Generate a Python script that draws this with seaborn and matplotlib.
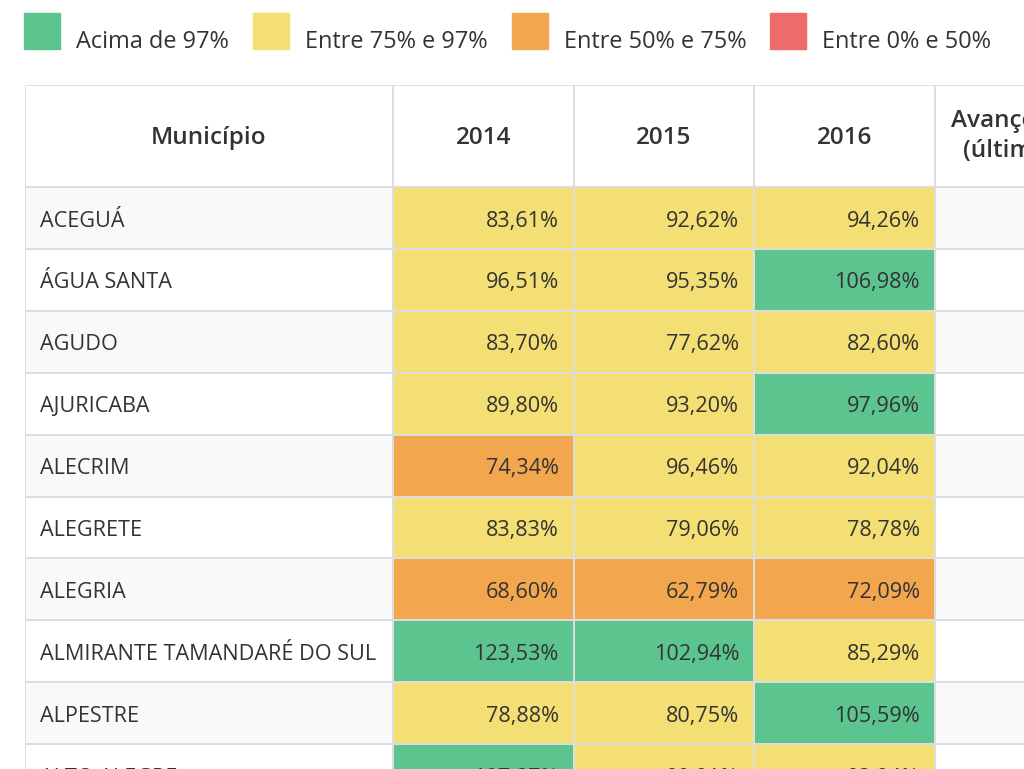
import numpy as np
import pandas as pd
import matplotlib
matplotlib.use("Agg")
import matplotlib.pyplot as plt
import seaborn as sns
from matplotlib.colors import ListedColormap
from matplotlib.patches import Rectangle

sns.set_theme(style="white")
plt.rcParams['font.family'] = ['Open Sans', 'DejaVu Sans']

# Dados
municipios = ["ACEGUÁ", "ÁGUA SANTA", "AGUDO", "AJURICABA", "ALECRIM",
              "ALEGRETE", "ALEGRIA", "ALMIRANTE TAMANDARÉ DO SUL", "ALPESTRE", "ALTO ALEGRE"]
anos = ["2014", "2015", "2016"]
v2014 = [83.61, 96.51, 83.70, 89.80, 74.34, 83.83, 68.60, 123.53, 78.88, 107.87]
v2015 = [92.62, 95.35, 77.62, 93.20, 96.46, 79.06, 62.79, 102.94, 80.75, 90.91]
v2016 = [94.26, 106.98, 82.60, 97.96, 92.04, 78.78, 72.09, 85.29, 105.59, 93.94]

faixas = ["Entre 0% e 50%", "Entre 50% e 75%", "Entre 75% e 97%", "Acima de 97%"]
cores = ["#EF6A6A", "#F2A74F", "#F4DF74", "#5CC58F"]

df = pd.DataFrame({"2014": v2014, "2015": v2015, "2016": v2016}, index=municipios)
codigos = df.apply(lambda c: pd.cut(c, [0, 50, 75, 97, 1000], labels=False)).values

W, H = 1024, 769
fig = plt.figure(figsize=(W / 100, H / 100), dpi=100)
linha = "#dddddd"
texto = "#333333"
lw = 1.1


def eixo(x0, y0, x1, y1):
    return fig.add_axes([x0 / W, 1 - y1 / H, (x1 - x0) / W, (y1 - y0) / H])


def limpa(ax):
    ax.set_xticks([])
    ax.set_yticks([])
    ax.set_xlabel("")
    ax.set_ylabel("")


n = len(municipios)
row_h = 61.9
y_top = 187
y_bot = y_top + n * row_h
listras = np.array([[i % 2] for i in range(n)])
cmap_listra = ListedColormap(["#f9f9f9", "#ffffff"])

# Cabeçalho
for x0, x1, titulos in [(25, 393, ["Município"]), (393, 935, anos), (935, 1115, [""])]:
    ax = eixo(x0, 85, x1, y_top)
    sns.heatmap(np.zeros((1, len(titulos))), ax=ax, cmap=ListedColormap(["#ffffff"]),
                cbar=False, linewidths=lw, linecolor=linha, xticklabels=False, yticklabels=False)
    for j, t in enumerate(titulos):
        ax.text(j + 0.5, 0.52, t, ha="center", va="center", fontsize=17.5, fontweight="semibold", color=texto)
    limpa(ax)
    if x0 == 935:
        ax.text(0.09, 0.5, "Avanço médio\n(último ano)", ha="left", va="center", multialignment="center",
                fontsize=17.5, fontweight="semibold", color=texto, linespacing=1.35)

# Coluna de municípios
ax_n = eixo(25, y_top, 393, y_bot)
sns.heatmap(listras, ax=ax_n, cmap=cmap_listra, vmin=0, vmax=1, cbar=False,
            linewidths=lw, linecolor=linha, xticklabels=False, yticklabels=False)
for i, m in enumerate(municipios):
    ax_n.text(0.041, i + 0.55, m, ha="left", va="center", fontsize=15.6, color=texto)
limpa(ax_n)

# Valores por ano
ax_v = eixo(393, y_top, 935, y_bot)
sns.heatmap(codigos, ax=ax_v, cmap=ListedColormap(cores), vmin=-0.5, vmax=3.5, cbar=False,
            linewidths=lw, linecolor=linha, xticklabels=False, yticklabels=False)
for i in range(n):
    for j, a in enumerate(anos):
        s = f"{df[a].iloc[i]:.2f}".replace(".", ",") + "%"
        ax_v.text(j + 1 - 0.083, i + 0.55, s, ha="right", va="center", fontsize=15.6, color=texto)
limpa(ax_v)

# Coluna de avanço (cortada)
ax_a = eixo(935, y_top, 1115, y_bot)
sns.heatmap(listras, ax=ax_a, cmap=cmap_listra, vmin=0, vmax=1, cbar=False,
            linewidths=lw, linecolor=linha, xticklabels=False, yticklabels=False)
limpa(ax_a)

# Legenda
ax_l = fig.add_axes([0, 0, 1, 1], facecolor="none")
ax_l.set_xlim(0, W)
ax_l.set_ylim(H, 0)
ax_l.axis("off")
pos = [24, 253, 512, 770]
for x, f, c in zip(pos, faixas[::-1], cores[::-1]):
    ax_l.add_patch(Rectangle((x, 13), 36, 36, color=c))
    ax_l.text(x + 52, 42, f, ha="left", va="center", fontsize=16.9, color=texto)

fig.savefig("out.png", dpi=100)
